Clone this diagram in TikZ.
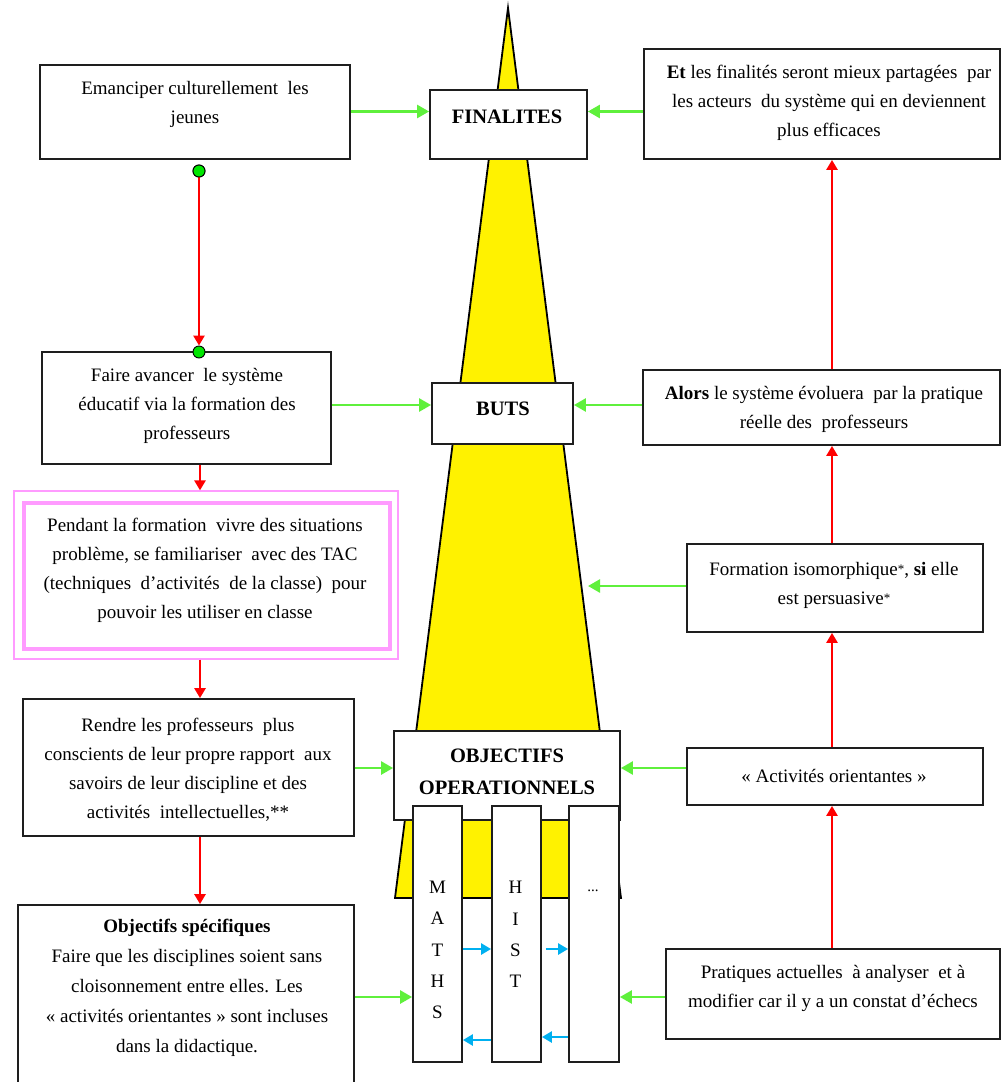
\documentclass[tikz,border=0pt]{standalone}
\usepackage{fontspec}
\setmainfont{Liberation Serif}
\usetikzlibrary{arrows.meta}
\definecolor{arrgreen}{RGB}{95,240,60}
\definecolor{dotgreen}{RGB}{0,230,0}
\definecolor{arrblue}{RGB}{0,176,240}
\definecolor{pinkc}{RGB}{255,155,255}
\definecolor{boxline}{RGB}{30,30,30}
\tikzset{
  box/.style={draw=boxline, line width=1.8pt, fill=white, inner sep=0pt},
  txt/.style={align=center, inner sep=0pt, font=\fontsize{19}{29}\selectfont},
  ttl/.style={align=center, inner sep=0pt, font=\bfseries\fontsize{20.5}{32}\selectfont},
  garr/.style={draw=arrgreen, line width=2.5pt, -{Triangle[length=12pt,width=13pt]}},
  rarr/.style={draw=red, line width=2.5pt, -{Triangle[length=10pt,width=11pt]}},
  barr/.style={draw=arrblue, line width=2.5pt, -{Triangle[length=10pt,width=11pt]}},
  dot/.style={circle, draw=black, line width=0.9pt, fill=dotgreen, minimum size=12pt, inner sep=0pt},
}
\begin{document}
\begin{tikzpicture}[x=1pt,y=-1pt]
\useasboundingbox (0,0) rectangle (1002,1082);
\clip (0,0) rectangle (1002,1082);
\fill[white] (0,0) rectangle (1002,1082);

% helper levels
\coordinate (xl) at (200,0);
\coordinate (xr) at (832,0);
\coordinate (yA) at (0,111.5);
\coordinate (yB) at (0,405);
\coordinate (yC) at (0,586);
\coordinate (yD) at (0,768);
\coordinate (yE) at (0,997);
\coordinate (yF) at (0,949);
\coordinate (yG) at (0,1040);
\coordinate (yH) at (0,1037);

% yellow pyramid
\draw[fill=yellow, line width=1.8pt, line join=miter] (508,8) -- (395,898) -- (621,898) -- cycle;
\coordinate (tri) at (588,586);

% central boxes
\node[box, minimum width=157pt, minimum height=69pt] (fin) at (508.5,124.5) {};
\node[ttl] (fint) at (507,117) {FINALITES};
\node[box, minimum width=141pt, minimum height=61pt] (buts) at (502.5,413.5) {};
\node[ttl] (butst) at (503,409) {BUTS};
\node[box, minimum width=226pt, minimum height=89pt] (obj) at (507,775.5) {};
\node[ttl] (objt) at (507,772) {OBJECTIFS\\OPERATIONNELS};

% discipline columns
\node[box, minimum width=49pt, minimum height=256pt] (m) at (437.5,934) {};
\node[box, minimum width=49pt, minimum height=256pt] (h) at (516.5,934) {};
\node[box, minimum width=50pt, minimum height=256pt] (d) at (594,934) {};
\node[txt, font=\fontsize{19}{31.2}\selectfont] (mt) at (437.5,950) {M\\A\\T\\H\\S};
\node[txt, font=\fontsize{19}{31.2}\selectfont] (ht) at (515.5,934.5) {H\\I\\S\\T};
\node[txt, font=\fontsize{15}{18}\selectfont] (dt) at (593,891) {...};

% left boxes
\node[box, minimum width=310pt, minimum height=94pt] (b1) at (195,112) {};
\node[txt] (b1t) at (195,104) {Emanciper culturellement\ \ les\\jeunes};
\node[box, minimum width=289pt, minimum height=112pt] (b2) at (186.5,408) {};
\node[txt] (b2t) at (187,406) {Faire avancer\ \ le système\\éducatif via la formation des\\professeurs};
\node[draw=pinkc, line width=1.2pt, minimum width=384pt, minimum height=168pt, inner sep=0pt] (pko) at (206,575) {};
\node[draw=pinkc, line width=4pt, fill=white, minimum width=366pt, minimum height=146pt, inner sep=0pt] (pk) at (206.5,576) {};
\node[txt] (pkt) at (205,570) {Pendant la formation\ \ vivre des situations\\problème, se familiariser\ \ avec des TAC\\(techniques\ \ d’activités\ \ de la classe)\ \ pour\\pouvoir les utiliser en classe};
\node[box, minimum width=331pt, minimum height=137pt] (b4) at (188.5,767.5) {};
\node[txt] (b4t) at (188,770) {Rendre les professeurs\ \ plus\\conscients de leur propre rapport\ \ aux\\savoirs de leur discipline et des\\activités\ \ intellectuelles,**};
\node[box, minimum width=336pt, minimum height=190pt] (b5) at (186,1000) {};
\node[txt, font=\fontsize{19}{30}\selectfont] (b5t) at (187,988) {\textbf{Objectifs spécifiques}\\Faire que les disciplines soient sans\\cloisonnement entre elles. Les\\« activités orientantes » sont incluses\\dans la didactique.};

% right boxes
\node[box, minimum width=356pt, minimum height=110pt] (r1) at (822,104) {};
\node[txt] (r1t) at (829,103) {\textbf{Et} les finalités seront mieux partagées\ \ par\\les acteurs\ \ du système qui en deviennent\\plus efficaces};
\node[box, minimum width=357pt, minimum height=75pt] (r2) at (821.5,407.5) {};
\node[txt] (r2t) at (824,409) {\textbf{Alors} le système évoluera\ \ par la pratique\\réelle des\ \ professeurs};
\node[box, minimum width=296pt, minimum height=88pt] (r3) at (835,588) {};
\node[txt] (r3t) at (834,585) {Formation isomorphique\raisebox{2pt}{\fontsize{13}{13}\selectfont*}, \textbf{si} elle\\est persuasive\raisebox{2pt}{\fontsize{13}{13}\selectfont*}};
\node[box, minimum width=296pt, minimum height=57pt] (r4) at (835,776.5) {};
\node[txt] (r4t) at (834,776) {« Activités orientantes »};
\node[box, minimum width=334pt, minimum height=90pt] (r5) at (833,994) {};
\node[txt] (r5t) at (833,988) {Pratiques actuelles\ \ à analyser\ \ et à\\modifier car il y a un constat d’échecs};

% green arrows
\draw[garr] (b1.east |- yA) -- (fin.west |- yA);
\draw[garr] (r1.west |- yA) -- (fin.east |- yA);
\draw[garr] (b2.east |- yB) -- (buts.west |- yB);
\draw[garr] (r2.west |- yB) -- (buts.east |- yB);
\draw[garr] (r3.west |- yC) -- (tri);
\draw[garr] (b4.east |- yD) -- (obj.west |- yD);
\draw[garr] (r4.west |- yD) -- (obj.east |- yD);
\draw[garr] (b5.east |- yE) -- (m.west |- yE);
\draw[garr] (r5.west |- yE) -- (d.east |- yE);

% red arrows, left chain
\node[dot] (c1) at (199,171) {};
\node[dot] (c2) at (199,352) {};
\draw[rarr] (c1.center) -- (c2.north);
\node[dot] at (199,171) {};
\draw[rarr] (xl |- b2.south) -- (xl |- pko.north);
\draw[rarr] (xl |- pko.south) -- (xl |- b4.north);
\draw[rarr] (xl |- b4.south) -- (xl |- b5.north);

% red arrows, right chain
\draw[rarr] (xr |- r5.north) -- (xr |- r4.south);
\draw[rarr] (xr |- r4.north) -- (xr |- r3.south);
\draw[rarr] (xr |- r3.north) -- (xr |- r2.south);
\draw[rarr] (xr |- r2.north) -- (xr |- r1.south);

% blue arrows between disciplines
\draw[barr] (m.east |- yF) -- (h.west |- yF);
\draw[barr] ([xshift=4pt]h.east |- yF) -- (d.west |- yF);
\draw[barr] (h.west |- yG) -- (m.east |- yG);
\draw[barr] (d.west |- yH) -- (h.east |- yH);
\end{tikzpicture}
\end{document}
